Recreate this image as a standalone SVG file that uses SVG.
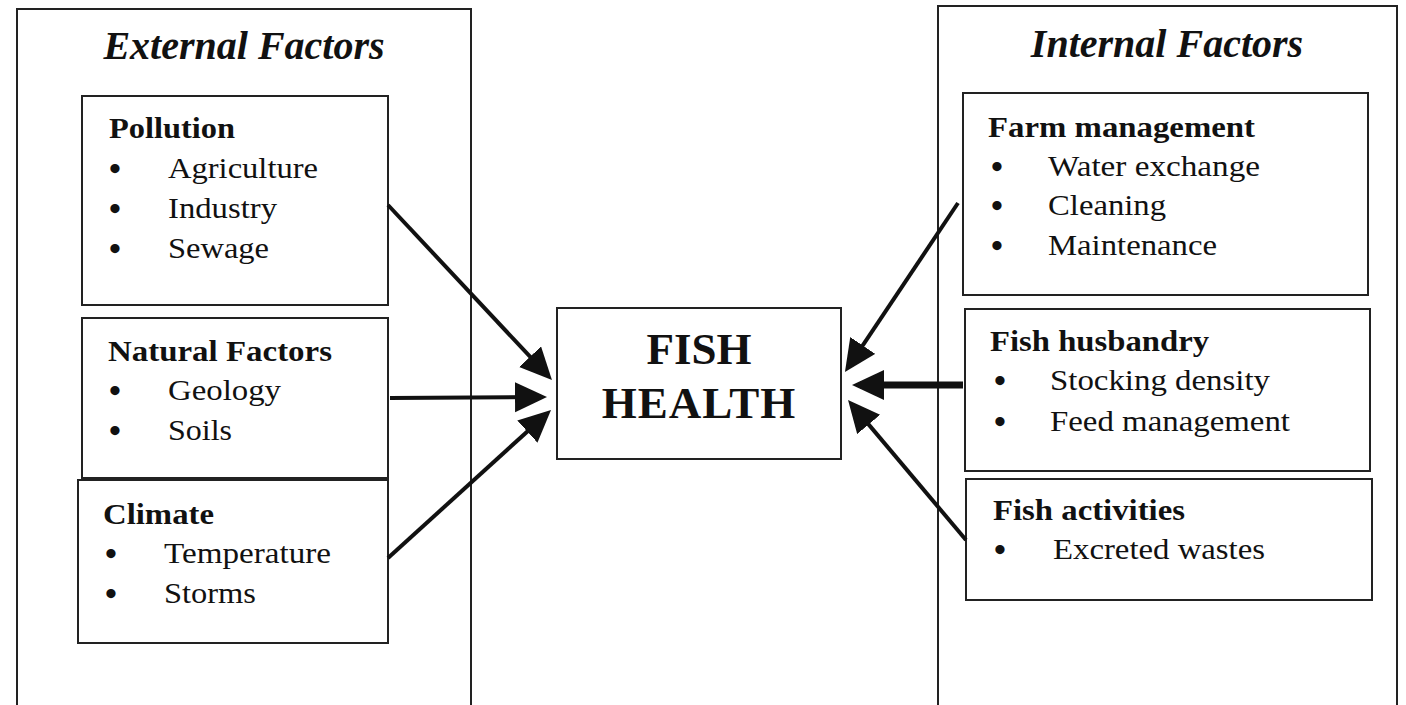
<svg xmlns="http://www.w3.org/2000/svg" width="1406" height="705" viewBox="0 0 1406 705">
<defs>
<style>
.box{fill:#fff;stroke:#222;stroke-width:2}
.frame{fill:none;stroke:#222;stroke-width:2}
.title{font-family:"Liberation Serif","Times New Roman",serif;font-size:40px;font-weight:bold;font-style:italic;fill:#111;text-anchor:middle}
.head{font-family:"Liberation Serif","Times New Roman",serif;font-size:30px;font-weight:bold;fill:#111}
.item{font-family:"Liberation Serif","Times New Roman",serif;font-size:30px;fill:#111}
.bul{font-family:"Liberation Serif","Times New Roman",serif;font-size:34px;font-weight:bold;fill:#111;text-anchor:middle}
.main{font-family:"Liberation Serif","Times New Roman",serif;font-size:45px;font-weight:bold;fill:#111;text-anchor:middle}
.conn{fill:none;stroke:#111;stroke-width:4}
.thick{stroke-width:7}
</style>
<marker id="arrow" markerUnits="userSpaceOnUse" markerWidth="34" markerHeight="32" refX="24" refY="15" orient="auto">
<path d="M0,0 L32,15 L0,30 Z" fill="#111"/>
</marker>
</defs>
<rect width="1406" height="705" fill="#fff"/>

<g id="external-factors">
<rect class="frame" x="17" y="9" width="454" height="710"/>
<text class="title" x="244" y="59">External Factors</text>
</g>

<g id="internal-factors">
<rect class="frame" x="938" y="6" width="459" height="710"/>
<text class="title" x="1167" y="57">Internal Factors</text>
</g>

<g id="pollution">
<rect class="box" x="82" y="96" width="306" height="209"/>
<text class="head" x="109" y="138" textLength="126" lengthAdjust="spacingAndGlyphs">Pollution</text>
<text class="bul" x="115" y="180">•</text>
<text class="item" x="168" y="178" textLength="150" lengthAdjust="spacingAndGlyphs">Agriculture</text>
<text class="bul" x="115" y="220">•</text>
<text class="item" x="168" y="218" textLength="109" lengthAdjust="spacingAndGlyphs">Industry</text>
<text class="bul" x="115" y="260">•</text>
<text class="item" x="168" y="258" textLength="101" lengthAdjust="spacingAndGlyphs">Sewage</text>
</g>

<g id="natural-factors">
<rect class="box" x="82" y="318" width="306" height="160"/>
<text class="head" x="108" y="361" textLength="224" lengthAdjust="spacingAndGlyphs">Natural Factors</text>
<text class="bul" x="115" y="402">•</text>
<text class="item" x="168" y="400" textLength="113" lengthAdjust="spacingAndGlyphs">Geology</text>
<text class="bul" x="115" y="442">•</text>
<text class="item" x="168" y="440" textLength="64" lengthAdjust="spacingAndGlyphs">Soils</text>
</g>

<g id="climate">
<rect class="box" x="78" y="480" width="310" height="163"/>
<text class="head" x="103" y="524" textLength="111" lengthAdjust="spacingAndGlyphs">Climate</text>
<text class="bul" x="111" y="565">•</text>
<text class="item" x="164" y="563" textLength="167" lengthAdjust="spacingAndGlyphs">Temperature</text>
<text class="bul" x="111" y="605">•</text>
<text class="item" x="164" y="603" textLength="92" lengthAdjust="spacingAndGlyphs">Storms</text>
</g>

<g id="fish-health">
<rect class="box" x="557" y="308" width="284" height="151"/>
<text class="main" x="699" y="364">FISH</text>
<text class="main" x="699" y="418" letter-spacing="1">HEALTH</text>
</g>

<g id="farm-management">
<rect class="box" x="963" y="93" width="405" height="202"/>
<text class="head" x="988" y="137" textLength="267" lengthAdjust="spacingAndGlyphs">Farm management</text>
<text class="bul" x="997" y="178">•</text>
<text class="item" x="1048" y="176" textLength="212" lengthAdjust="spacingAndGlyphs">Water exchange</text>
<text class="bul" x="997" y="217">•</text>
<text class="item" x="1048" y="215" textLength="118" lengthAdjust="spacingAndGlyphs">Cleaning</text>
<text class="bul" x="997" y="257">•</text>
<text class="item" x="1048" y="255" textLength="169" lengthAdjust="spacingAndGlyphs">Maintenance</text>
</g>

<g id="fish-husbandry">
<rect class="box" x="965" y="309" width="405" height="162"/>
<text class="head" x="990" y="351" textLength="219" lengthAdjust="spacingAndGlyphs">Fish husbandry</text>
<text class="bul" x="1000" y="392">•</text>
<text class="item" x="1050" y="390" textLength="220" lengthAdjust="spacingAndGlyphs">Stocking density</text>
<text class="bul" x="1000" y="433">•</text>
<text class="item" x="1050" y="431" textLength="240" lengthAdjust="spacingAndGlyphs">Feed management</text>
</g>

<g id="fish-activities">
<rect class="box" x="966" y="479" width="406" height="121"/>
<text class="head" x="993" y="520" textLength="192" lengthAdjust="spacingAndGlyphs">Fish activities</text>
<text class="bul" x="1000" y="561">•</text>
<text class="item" x="1053" y="559" textLength="212" lengthAdjust="spacingAndGlyphs">Excreted wastes</text>
</g>

<g id="connectors">
<line class="conn" x1="388" y1="205" x2="546.5" y2="374.2" marker-end="url(#arrow)"/>
<line class="conn" x1="390" y1="398" x2="539" y2="397" marker-end="url(#arrow)"/>
<line class="conn" x1="388" y1="558" x2="545.1" y2="415.4" marker-end="url(#arrow)"/>
<line class="conn" x1="958" y1="203" x2="849.4" y2="365.4" marker-end="url(#arrow)"/>
<line class="conn thick" x1="963" y1="385" x2="860" y2="385" marker-end="url(#arrow)"/>
<line class="conn" x1="966" y1="540" x2="853.2" y2="406.1" marker-end="url(#arrow)"/>
</g>
</svg>
